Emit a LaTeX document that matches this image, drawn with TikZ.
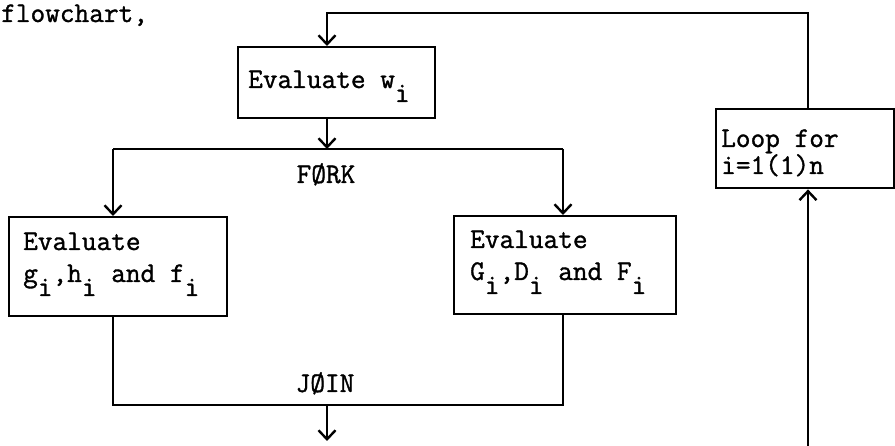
\documentclass[tikz,border=0pt]{standalone}
\usepackage{fontspec}
\setmonofont{Latin Modern Mono}[FakeBold=1.2]
\usetikzlibrary{arrows.meta}
\newcommand{\sbi}{\raisebox{-14pt}{i}}
\tikzset{
  ln/.style={line width=2.4pt},
  arr/.style={ln, -{Straight Barb[length=9pt,width=17pt,line width=2.4pt]}},
  box/.style={draw, line width=2.4pt, inner sep=0pt, anchor=north west},
  txt/.style={font=\fontsize{28.5}{30}\selectfont\ttfamily\bfseries, anchor=base west, inner sep=0pt},
}
\begin{document}
\begin{tikzpicture}[x=1pt,y=-1pt]
\useasboundingbox (0,0) rectangle (895,446);
% boxes
\node[box, minimum width=197pt, minimum height=71pt] (w) at (237,46) {};
\node[box, minimum width=218pt, minimum height=99pt] (lb) at (8,216) {};
\node[box, minimum width=222pt, minimum height=98pt] (rb) at (453,215) {};
\node[box, minimum width=178pt, minimum height=79pt] (lp) at (715,108) {};
% texts
\node[txt] (top) at (1,22) {flowchart,};
\node[txt] (wt) at (248,88) {Evaluate w\sbi};
\node[txt] (l1) at (23,250) {Evaluate};
\node[txt] (l2) at (23,282) {g\sbi,h\sbi{} and f\sbi};
\node[txt] (r1) at (470,248) {Evaluate};
\node[txt] (r2) at (470,280) {G\sbi,D\sbi{} and F\sbi};
\node[txt] (p1) at (721,147) {Loop for};
\node[txt] (p2) at (721,174) {i=1(1)n};
\node[txt, anchor=base] (fork) at (326,183) {FØRK};
\node[txt, anchor=base] (join) at (325,392) {JØIN};
% coordinates
\coordinate (tl) at (327,13);
\coordinate (tr) at (808,13);
\coordinate (fc) at (327,149);
\coordinate (lf) at (113,149);
\coordinate (rf) at (563,149);
\coordinate (lj) at (113,405);
\coordinate (rj) at (563,405);
\coordinate (jc) at (327,405);
\coordinate (out) at (327,441);
\coordinate (bot) at (808,446);
% connectors
\draw[arr] (lp.north -| tr) -- (tr) -- (tl) -- (w.north -| tl);
\draw[arr] (w.south -| fc) -- (fc);
\draw[ln] (lf) -- (rf);
\draw[arr] (lf) -- (lb.north -| lf);
\draw[arr] (rf) -- (rb.north -| rf);
\draw[ln] (lb.south -| lj) -- (lj) -- (rj) -- (rb.south -| rj);
\draw[arr] (jc) -- (out);
\draw[arr] (bot) -- (lp.south -| bot);
\end{tikzpicture}
\end{document}
